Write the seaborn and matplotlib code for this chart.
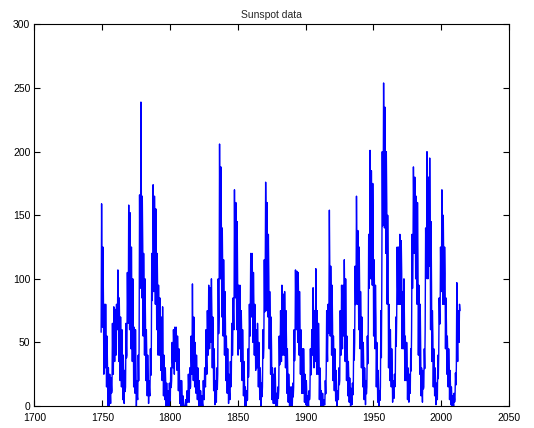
import numpy as np
import pandas as pd
import matplotlib
matplotlib.use("Agg")
import matplotlib.pyplot as plt
import seaborn as sns

# Yearly values (mean, highest month, lowest month)
years = list(range(1749, 2014))
mean_vals = [
    80.9, 83.4, 47.7, 47.8, 30.7, 12.2, 9.6, 10.2, 32.4, 47.6,
    54.0, 62.9, 85.9, 61.2, 45.1, 36.4, 20.9, 11.4, 37.8, 69.8,
    106.1, 100.8, 81.6, 66.5, 34.8, 30.6, 7.0, 19.8, 92.5, 154.4,
    125.9, 84.8, 68.1, 38.5, 22.8, 10.2, 24.1, 82.9, 132.0, 130.9,
    118.1, 89.9, 66.6, 60.0, 46.9, 41.0, 21.3, 16.0, 6.4, 4.1,
    6.8, 14.5, 34.0, 45.0, 43.1, 47.5, 42.2, 28.1, 10.1, 8.1,
    2.5, 0.0, 1.4, 5.0, 12.2, 13.9, 35.4, 45.8, 41.1, 30.1,
    23.9, 15.6, 6.6, 4.0, 1.8, 8.5, 16.6, 36.3, 49.6, 64.2,
    67.0, 70.9, 47.8, 27.5, 8.5, 13.2, 56.9, 121.5, 138.3, 103.2,
    85.7, 64.6, 36.7, 24.2, 10.7, 15.0, 40.1, 61.5, 98.5, 124.7,
    96.3, 66.6, 64.5, 54.1, 39.0, 20.6, 6.7, 4.3, 22.7, 54.8,
    93.8, 95.8, 77.2, 59.1, 44.0, 47.0, 30.5, 16.3, 7.3, 37.6,
    74.0, 139.0, 111.2, 101.6, 66.2, 44.7, 17.0, 11.3, 12.4, 3.4,
    6.0, 32.3, 54.3, 59.7, 63.7, 63.5, 52.2, 25.4, 13.1, 6.8,
    6.3, 7.1, 35.6, 73.0, 85.1, 78.0, 64.0, 41.8, 26.2, 26.7,
    12.1, 9.5, 2.7, 5.0, 24.4, 42.0, 63.5, 53.8, 62.0, 48.5,
    43.9, 18.6, 5.7, 3.6, 1.4, 9.6, 47.4, 57.1, 103.9, 80.6,
    63.6, 37.6, 26.1, 14.2, 5.8, 16.7, 44.3, 63.9, 69.0, 77.8,
    64.9, 35.7, 21.2, 11.1, 5.7, 8.7, 36.1, 79.7, 114.4, 109.6,
    88.8, 67.8, 47.5, 30.6, 16.3, 9.6, 33.2, 92.6, 151.6, 136.3,
    134.7, 83.9, 69.4, 31.5, 13.9, 4.4, 38.0, 141.7, 190.2, 184.8,
    159.0, 112.3, 53.9, 37.6, 27.9, 10.2, 15.1, 47.0, 93.8, 105.9,
    105.5, 104.5, 66.6, 68.9, 38.0, 34.5, 15.5, 12.6, 27.5, 92.5,
    155.4, 154.6, 140.4, 115.9, 66.6, 45.9, 17.9, 13.4, 29.4, 100.2,
    157.6, 142.6, 145.7, 94.3, 54.6, 29.9, 17.5, 8.6, 21.5, 64.3,
    93.3, 119.6, 111.0, 104.0, 63.7, 40.4, 29.8, 15.2, 7.5, 2.9,
    3.1, 16.5, 55.7, 57.6, 75.0,
]
high_vals = [
    159, 125, 80, 80, 55, 30, 25, 22, 65, 78,
    76, 80, 107, 85, 70, 60, 40, 28, 65, 105,
    158, 152, 125, 100, 62, 60, 20, 40, 166, 239,
    165, 120, 100, 60, 40, 20, 45, 120, 174, 165,
    155, 120, 95, 85, 70, 78, 40, 30, 18, 12,
    18, 30, 50, 60, 62, 62, 55, 45, 20, 20,
    8, 0, 5, 12, 25, 30, 55, 96, 70, 50,
    40, 30, 20, 12, 8, 20, 30, 60, 75, 95,
    93, 100, 70, 45, 20, 30, 100, 206, 188, 140,
    115, 90, 55, 45, 25, 35, 65, 85, 170, 160,
    145, 95, 95, 75, 60, 35, 15, 12, 45, 80,
    120, 120, 105, 80, 60, 65, 50, 30, 18, 60,
    115, 176, 160, 135, 90, 70, 30, 25, 30, 10,
    15, 55, 75, 95, 88, 90, 75, 45, 25, 15,
    15, 18, 60, 107, 106, 105, 90, 60, 45, 45,
    25, 20, 8, 12, 45, 60, 93, 75, 108, 75,
    65, 30, 12, 10, 5, 20, 75, 80, 154, 110,
    95, 55, 45, 28, 12, 30, 75, 95, 95, 115,
    100, 55, 35, 22, 14, 18, 60, 110, 165, 138,
    125, 90, 70, 50, 30, 20, 55, 135, 201, 185,
    175, 115, 95, 50, 28, 12, 75, 200, 254, 235,
    200, 150, 80, 60, 45, 20, 25, 70, 125, 125,
    135, 130, 90, 100, 55, 50, 30, 25, 45, 135,
    188, 180, 165, 160, 95, 80, 30, 28, 45, 140,
    200, 180, 195, 145, 75, 45, 30, 18, 40, 85,
    125, 170, 150, 125, 85, 55, 45, 28, 15, 8,
    10, 26, 97, 75, 80,
]
low_vals = [
    58, 62, 25, 30, 15, 0, 0, 2, 12, 25,
    35, 40, 60, 35, 20, 15, 5, 2, 15, 40,
    65, 60, 45, 35, 15, 10, 0, 5, 45, 100,
    85, 55, 40, 20, 8, 2, 8, 40, 95, 90,
    80, 60, 40, 40, 28, 20, 8, 5, 0, 0,
    0, 4, 20, 30, 25, 35, 28, 12, 2, 0,
    0, 0, 0, 0, 3, 3, 15, 25, 20, 15,
    10, 5, 0, 0, 0, 0, 5, 15, 25, 40,
    45, 50, 30, 12, 1, 3, 25, 70, 100, 70,
    55, 40, 20, 10, 2, 5, 20, 40, 60, 85,
    60, 40, 45, 35, 20, 8, 0, 0, 5, 30,
    70, 70, 50, 40, 28, 30, 15, 5, 0, 15,
    45, 95, 75, 70, 45, 25, 5, 2, 2, 0,
    0, 12, 35, 35, 40, 40, 30, 10, 3, 0,
    0, 0, 15, 45, 60, 50, 40, 25, 10, 10,
    3, 1, 0, 0, 8, 25, 40, 30, 35, 25,
    25, 5, 0, 0, 0, 1, 25, 35, 70, 55,
    40, 20, 12, 4, 0, 5, 20, 40, 45, 55,
    35, 20, 8, 3, 0, 1, 15, 50, 85, 80,
    60, 45, 30, 15, 5, 1, 15, 60, 110, 100,
    95, 55, 45, 15, 3, 0, 15, 90, 150, 140,
    120, 80, 30, 20, 15, 3, 6, 25, 70, 80,
    80, 80, 45, 45, 20, 20, 5, 3, 10, 60,
    115, 120, 100, 80, 40, 25, 8, 3, 15, 60,
    110, 100, 110, 60, 35, 15, 8, 1, 5, 40,
    65, 90, 80, 80, 45, 25, 15, 5, 1, 0,
    0, 5, 30, 35, 50,
]

xticks = [1700, 1750, 1800, 1850, 1900, 1950, 2000, 2050]
yticks = [0, 50, 100, 150, 200, 250, 300]
title = "Sunspot data"

# Build the series: three readings per year (low, high, mean)
t_list, v_list = [], []
for y, lo, hi, m in zip(years, low_vals, high_vals, mean_vals):
    t_list += [y + 0.15, y + 0.5, y + 0.85]
    v_list += [lo, hi, m]
df = pd.DataFrame({"year": t_list, "spots": v_list})

sns.set_theme(style="white")
plt.rcParams["font.family"] = ["Liberation Sans", "DejaVu Sans"]

fig = plt.figure(figsize=(5.34, 4.28), dpi=100)
ax = fig.add_axes([0.0646, 0.0514, 0.8886, 0.8914])
sns.lineplot(data=df, x="year", y="spots", color=(0, 0, 1), linewidth=1.0,
             sort=False, estimator=None, ax=ax)

ax.set_xlim(1700, 2050)
ax.set_ylim(0, 300)
ax.set_xticks(xticks)
ax.set_yticks(yticks)
ax.set_xticklabels([str(v) for v in xticks], fontsize=7.5)
ax.set_yticklabels([str(v) for v in yticks], fontsize=7.5)
ax.set_xlabel("")
ax.set_ylabel("")
ax.set_title(title, fontsize=7.5, pad=5)
ax.tick_params(direction="in", length=4, width=0.8, top=True, right=True,
               bottom=True, left=True, colors="black")
ax.tick_params(axis="x", pad=5)
ax.tick_params(axis="y", pad=3)
for s in ax.spines.values():
    s.set_visible(True)
    s.set_color("black")
    s.set_linewidth(0.8)

fig.savefig("out.png", dpi=100, facecolor="white")
